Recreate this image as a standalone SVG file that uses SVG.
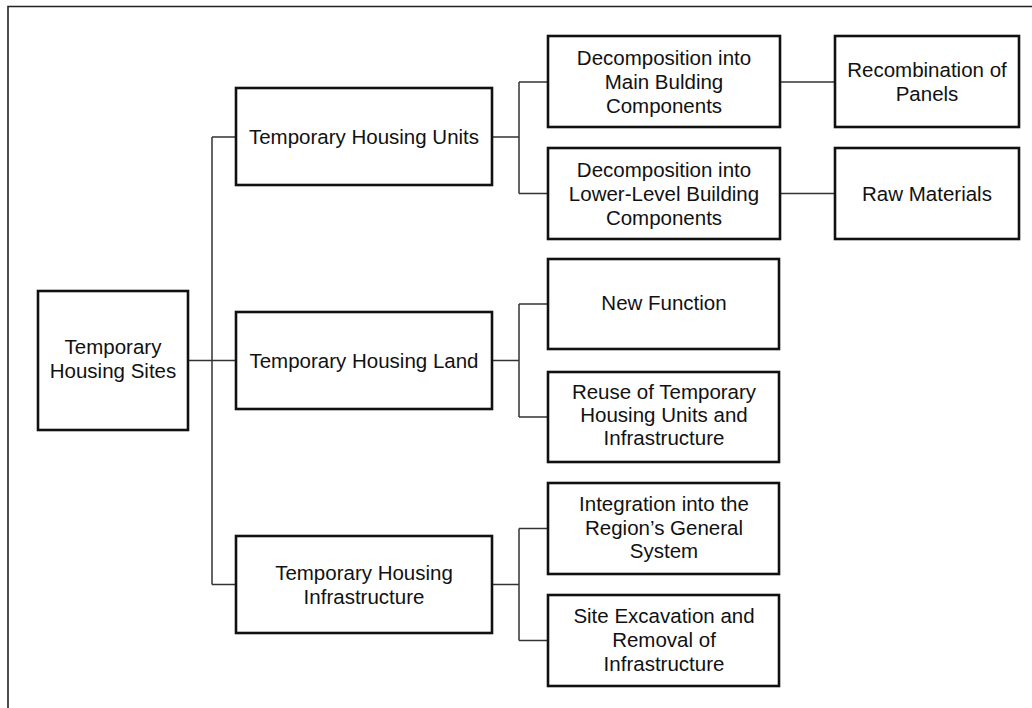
<svg xmlns="http://www.w3.org/2000/svg" width="1032" height="708" viewBox="0 0 1032 708">
<style>
.box{fill:#fff;stroke:#111;stroke-width:2.6}
.ln{fill:none;stroke:#333;stroke-width:1.5}
.frame{fill:none;stroke:#222;stroke-width:1.6}
text{font-family:"Liberation Sans",Arial,sans-serif;font-size:20.5px;fill:#111;text-anchor:middle}
</style>
<rect width="1032" height="708" fill="#fff"/>
<path class="frame" d="M8,708 V6.5 H1032"/>
<g id="connectors">
<path class="ln" d="M188,360.5 H236"/>
<path class="ln" d="M212,137 V584.5 M212,137 H236 M212,584.5 H236"/>
<path class="ln" d="M492,137 H519 M519,82 V193.5 M519,82 H548 M519,193.5 H548"/>
<path class="ln" d="M780,82 H835 M780,193.5 H835"/>
<path class="ln" d="M492,360.5 H519 M519,304 V417 M519,304 H548 M519,417 H548"/>
<path class="ln" d="M492,584.5 H519 M519,528.5 V640.5 M519,528.5 H548 M519,640.5 H548"/>
</g>
<g id="root">
<rect class="box" x="38" y="291" width="150" height="139"/>
<text x="113" y="354">Temporary</text>
<text x="113" y="378">Housing Sites</text>
</g>
<g id="units">
<rect class="box" x="236" y="88" width="256" height="97"/>
<text x="364" y="144">Temporary Housing Units</text>
</g>
<g id="land">
<rect class="box" x="236" y="312" width="256" height="97"/>
<text x="364" y="368">Temporary Housing Land</text>
</g>
<g id="infra">
<rect class="box" x="236" y="536" width="256" height="97"/>
<text x="364" y="580">Temporary Housing</text>
<text x="364" y="604">Infrastructure</text>
</g>
<g id="decomp-main">
<rect class="box" x="548" y="36" width="232" height="91"/>
<text x="664" y="65">Decomposition into</text>
<text x="664" y="89">Main Bulding</text>
<text x="664" y="113">Components</text>
</g>
<g id="decomp-lower">
<rect class="box" x="548" y="148" width="232" height="91"/>
<text x="664" y="177">Decomposition into</text>
<text x="664" y="201">Lower-Level Building</text>
<text x="664" y="225">Components</text>
</g>
<g id="recombination">
<rect class="box" x="835" y="36" width="184" height="91"/>
<text x="927" y="77">Recombination of</text>
<text x="927" y="101">Panels</text>
</g>
<g id="raw">
<rect class="box" x="835" y="148" width="184" height="91"/>
<text x="927" y="201">Raw Materials</text>
</g>
<g id="new-function">
<rect class="box" x="548" y="259" width="231" height="90"/>
<text x="664" y="310">New Function</text>
</g>
<g id="reuse">
<rect class="box" x="548" y="372" width="231" height="90"/>
<text x="664" y="399">Reuse of Temporary</text>
<text x="664" y="422">Housing Units and</text>
<text x="664" y="445">Infrastructure</text>
</g>
<g id="integration">
<rect class="box" x="548" y="483" width="231" height="91"/>
<text x="664" y="511">Integration into the</text>
<text x="664" y="535">Region’s General</text>
<text x="664" y="558">System</text>
</g>
<g id="excavation">
<rect class="box" x="548" y="595" width="231" height="91"/>
<text x="664" y="623">Site Excavation and</text>
<text x="664" y="647">Removal of</text>
<text x="664" y="671">Infrastructure</text>
</g>
</svg>
